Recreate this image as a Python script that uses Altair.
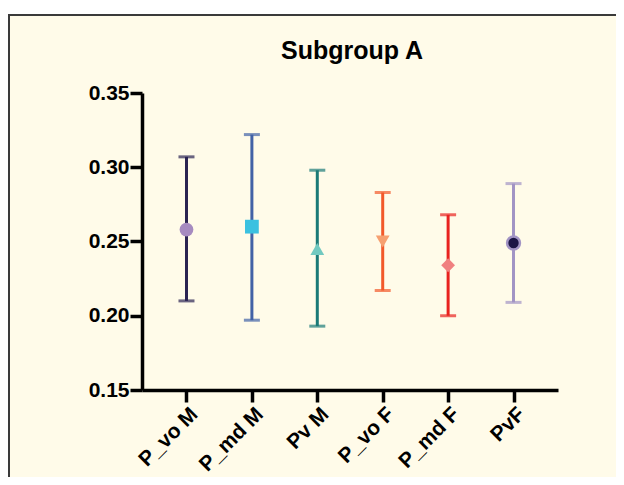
import altair as alt
import pandas as pd

categories = ["P_vo M", "P_md M", "Pv M", "P_vo F", "P_md F", "PvF"]
means = [0.258, 0.260, 0.245, 0.250, 0.234, 0.249]
uppers = [0.307, 0.322, 0.298, 0.283, 0.268, 0.289]
lowers = [0.210, 0.197, 0.193, 0.217, 0.200, 0.209]
title_text = "Subgroup A"

bar_colors = ["#2b2452", "#4262a6", "#1b7a77", "#f2592a", "#e8221f", "#a294c4"]
marker_colors = ["#a68bc0", "#3bc1e0", "#72c9c0", "#f6a070", "#f08080", "#1c1545"]
marker_shapes = ["circle", "square", "triangle-up", "triangle-down", "diamond", "circle"]

df = pd.DataFrame({"cat": categories, "mean": means, "upper": uppers, "lower": lowers})

W, H = 416, 297
PL, PT, PR, PB = 134, 85, 58, 87

axis_style = dict(
    labelFont="Liberation Sans", labelFontWeight="bold", labelFontSize=21,
    labelColor="black", domainColor="black", domainWidth=3.5,
    tickColor="black", tickWidth=3.5, tickSize=12, grid=False, zindex=2,
)

x_enc = alt.X("cat:N", sort=categories,
              scale=alt.Scale(type="point", padding=0.68),
              axis=alt.Axis(title=None, labelAngle=-45, labelPadding=1, **axis_style))
y_scale = alt.Scale(domain=[0.15, 0.35], nice=False, zero=False)
y_axis = alt.Axis(title=None, values=[0.15, 0.20, 0.25, 0.30, 0.35], format=".2f",
                  labelPadding=1, **axis_style)
color_scale = alt.Scale(domain=categories, range=bar_colors)

base = alt.Chart(df)

panel = alt.Chart(alt.Data(values=[{}])).mark_rect(
    fill="#fffbe9", stroke="#3a3a3a", strokeWidth=2
).encode(
    x=alt.value(-133), y=alt.value(-78),
    x2=alt.value(W + PR + 20), y2=alt.value(H + PB + 20)
)

title = alt.Chart(alt.Data(values=[{"t": title_text}])).mark_text(
    font="Liberation Sans", fontSize=25, fontWeight="bold", color="black",
    align="center", baseline="alphabetic"
).encode(x=alt.value(W / 2 + 2), y=alt.value(-34), text="t:N")

rules = base.mark_rule(strokeWidth=3).encode(
    x=x_enc,
    y=alt.Y("lower:Q", scale=y_scale, axis=y_axis),
    y2="upper:Q",
    color=alt.Color("cat:N", scale=color_scale, legend=None),
)
caps_hi = base.mark_tick(size=16, thickness=3, orient="horizontal").encode(
    x=x_enc, y=alt.Y("upper:Q", scale=y_scale, axis=y_axis),
    color=alt.Color("cat:N", scale=color_scale, legend=None),
)
caps_lo = base.mark_tick(size=16, thickness=3, orient="horizontal").encode(
    x=x_enc, y=alt.Y("lower:Q", scale=y_scale, axis=y_axis),
    color=alt.Color("cat:N", scale=color_scale, legend=None),
)
points = base.transform_filter("datum.cat != 'PvF'").mark_point(
    filled=True, opacity=1, size=190
).encode(
    x=x_enc, y=alt.Y("mean:Q", scale=y_scale, axis=y_axis),
    fill=alt.Fill("cat:N", scale=alt.Scale(domain=categories, range=marker_colors), legend=None),
    shape=alt.Shape("cat:N", scale=alt.Scale(domain=categories, range=marker_shapes), legend=None),
)
pvf = base.transform_filter("datum.cat == 'PvF'").mark_point(
    filled=True, opacity=1, size=165, shape="circle",
    fill=marker_colors[5], stroke=bar_colors[5], strokeWidth=2.5
).encode(
    x=x_enc, y=alt.Y("mean:Q", scale=y_scale, axis=y_axis),
)

chart = alt.layer(panel, rules, caps_hi, caps_lo, points, pvf, title).properties(
    width=W, height=H,
    autosize=alt.AutoSizeParams(type="none"),
    padding={"left": PL, "top": PT, "right": PR, "bottom": PB},
    background="white",
).configure_view(stroke=None)

chart.save("out.html", embed_options={"renderer": "svg", "actions": False})
